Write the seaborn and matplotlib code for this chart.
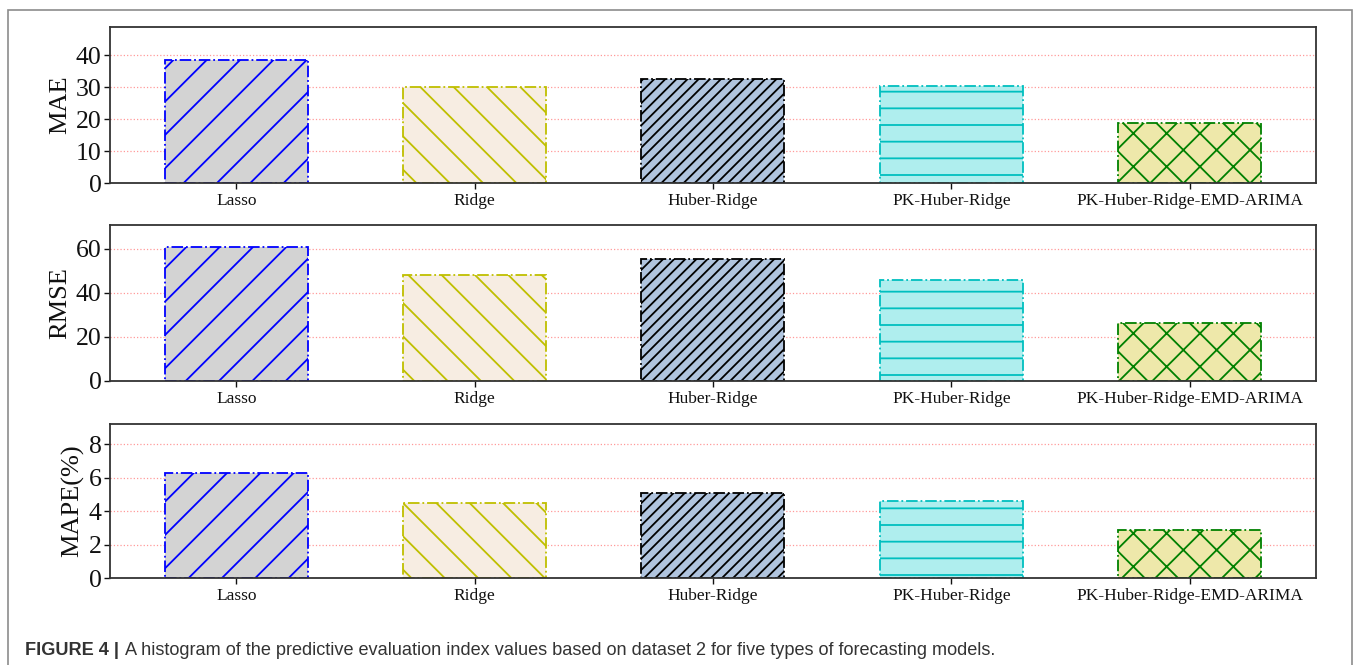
import matplotlib
matplotlib.use('Agg')
import matplotlib.pyplot as plt
import seaborn as sns
from matplotlib.patches import Rectangle

# --- data ---
models = ['Lasso', 'Ridge', 'Huber-Ridge', 'PK-Huber-Ridge', 'PK-Huber-Ridge-EMD-ARIMA']
mae = [38.5, 30.0, 32.4, 30.4, 18.9]
rmse = [61.0, 48.3, 55.5, 46.0, 26.5]
mape = [6.28, 4.48, 5.08, 4.60, 2.88]

metric_names = ['MAE', 'RMSE', 'MAPE(%)']
y_ticks = [[0, 10, 20, 30, 40], [0, 20, 40, 60], [0, 2, 4, 6, 8]]
y_tops = [48.75, 70.9, 9.2]

face_colors = ['lightgray', '#f7ede2', 'lightsteelblue', 'paleturquoise', 'palegoldenrod']
edge_colors = ['b', 'y', 'k', 'c', 'g']
hatches = ['/', '\\', '///', '-', 'x']

caption_bold = 'FIGURE 4 |'
caption_text = ('A histogram of the predictive evaluation index values based on dataset 2 '
                'for five types of forecasting models.')

sns.set_style('ticks')
plt.rcParams['font.family'] = ['Liberation Serif', 'DejaVu Serif']
plt.rcParams['hatch.linewidth'] = 1.3

fig = plt.figure(figsize=(13.54, 6.65), dpi=100)

# axes boxes in figure fractions
boxes = [[0.0812, 0.7248, 0.8907, 0.2346],
         [0.0812, 0.4271, 0.8907, 0.2346],
         [0.0812, 0.1308, 0.8907, 0.2316]]

for values, name, ticks, top, box in zip([mae, rmse, mape], metric_names, y_ticks, y_tops, boxes):
    ax = fig.add_axes(box)
    sns.barplot(x=models, y=values, hue=models, palette=face_colors, saturation=1,
                legend=False, width=0.6, ax=ax)
    for bar, fc, ec, h in zip(ax.patches, face_colors, edge_colors, hatches):
        bar.set_facecolor(fc)
        bar.set_edgecolor(ec)
        bar.set_hatch(h)
        bar.set_linestyle('-.')
        bar.set_linewidth(1.3)
    ax.set_xlim(-0.53, 4.53)
    ax.set_ylim(0, top)
    ax.set_yticks(ticks)
    ax.set_axisbelow(True)
    ax.grid(axis='y', color='red', linestyle=':', linewidth=0.9, alpha=0.4)
    ax.set_ylabel(name, fontsize=19, color='#111111', labelpad=3)
    ax.tick_params(axis='y', labelsize=18.5, length=4, width=1, pad=2, colors='#111111')
    ax.tick_params(axis='x', labelsize=12.5, length=4, width=1, pad=3, colors='#111111')
    for sp in ax.spines.values():
        sp.set_visible(True)
        sp.set_color('#333333')
        sp.set_linewidth(1.3)

# page frame (open at the bottom)
fig.add_artist(Rectangle((8 / 1354, -0.05), (1352 - 8) / 1354, 1 - 10 / 665 + 0.05,
                         transform=fig.transFigure, fill=False, ec='#8c8c8c', lw=1.2))

# caption
t1 = fig.text(25 / 1354, 1 - 655 / 665, caption_bold, fontsize=13.1, fontweight='bold',
              family=['Liberation Sans', 'DejaVu Sans'], color='#333333', va='baseline')
plt.annotate(caption_text, xy=(1, 0), xycoords=t1, xytext=(4, 0), textcoords='offset points',
             fontsize=13.1, family=['Liberation Sans', 'DejaVu Sans'], color='#333333',
             va='bottom', ha='left', annotation_clip=False)

fig.savefig('out.png', dpi=100)
